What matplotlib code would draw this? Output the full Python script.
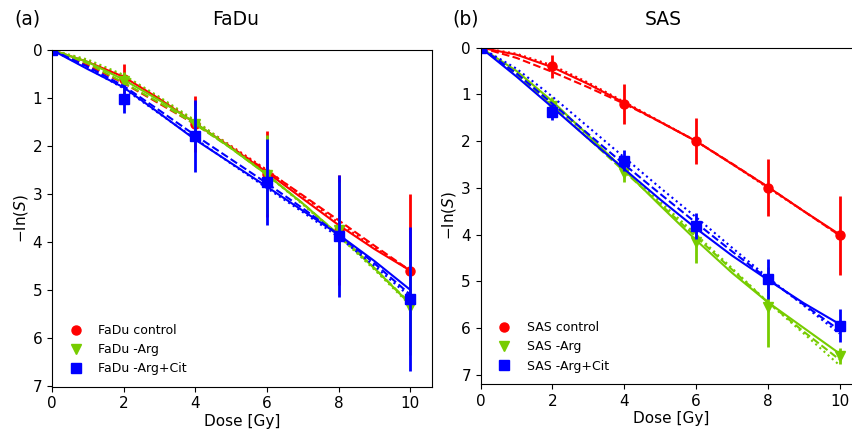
import numpy as np
import matplotlib
matplotlib.use("Agg")
import matplotlib.pyplot as plt

# measured points (-ln S) at each dose
dose = [0, 2, 4, 6, 8, 10]

fadu_ctrl = [0, 0.60, 1.55, 2.58, 3.75, 4.60]
fadu_ctrl_err = [0, 0.30, 0.58, 0.90, 1.15, 1.60]
fadu_arg = [0, 0.65, 1.55, 2.60, 3.75, 5.35]
fadu_arg_err = [0, 0.20, 0.40, 0.83, 1.00, 1.00]
fadu_cit = [0, 1.02, 1.80, 2.75, 3.88, 5.20]
fadu_cit_err = [0, 0.30, 0.75, 0.90, 1.27, 1.50]

sas_ctrl = [0, 0.40, 1.20, 2.00, 3.00, 4.02]
sas_ctrl_err = [0, 0.24, 0.43, 0.50, 0.61, 0.85]
sas_arg = [0, 1.25, 2.68, 4.15, 5.55, 6.60]
sas_arg_err = [0, 0.20, 0.20, 0.47, 0.85, 0.17]
sas_cit = [0, 1.38, 2.42, 3.82, 4.95, 5.95]
sas_cit_err = [0, 0.17, 0.22, 0.28, 0.43, 0.36]

# fitted curves (solid / dashed / dotted)
fit_dose = [0, 1, 2, 3, 4, 5, 6, 7, 8, 9, 10]

fadu_ctrl_solid = [0, 0.25, 0.56, 1.02, 1.53, 2.03, 2.55, 3.10, 3.65, 4.15, 4.60]
fadu_ctrl_dash = [0, 0.32, 0.69, 1.12, 1.55, 2.03, 2.52, 3.03, 3.55, 4.08, 4.60]
fadu_ctrl_dot = [0, 0.23, 0.55, 1.00, 1.50, 2.00, 2.50, 3.05, 3.60, 4.12, 4.60]
fadu_arg_solid = [0, 0.25, 0.62, 1.05, 1.52, 2.05, 2.60, 3.20, 3.85, 4.55, 5.30]
fadu_arg_dash = [0, 0.28, 0.68, 1.10, 1.55, 2.05, 2.60, 3.20, 3.85, 4.55, 5.28]
fadu_arg_dot = [0, 0.20, 0.52, 0.98, 1.47, 2.02, 2.60, 3.22, 3.88, 4.58, 5.32]
fadu_cit_solid = [0, 0.40, 0.78, 1.32, 1.87, 2.36, 2.85, 3.35, 3.85, 4.40, 5.00]
fadu_cit_dash = [0, 0.35, 0.75, 1.26, 1.78, 2.28, 2.78, 3.30, 3.85, 4.45, 5.10]
fadu_cit_dot = [0, 0.38, 0.80, 1.33, 1.85, 2.37, 2.88, 3.38, 3.90, 4.50, 5.15]

sas_ctrl_solid = [0, 0.15, 0.42, 0.78, 1.18, 1.59, 2.00, 2.49, 2.98, 3.50, 4.00]
sas_ctrl_dash = [0, 0.22, 0.52, 0.85, 1.20, 1.59, 2.00, 2.48, 2.98, 3.50, 4.02]
sas_ctrl_dot = [0, 0.13, 0.38, 0.75, 1.16, 1.58, 2.00, 2.49, 3.00, 3.50, 4.02]
sas_arg_solid = [0, 0.50, 1.15, 1.88, 2.62, 3.38, 4.12, 4.82, 5.45, 6.00, 6.55]
sas_arg_dash = [0, 0.58, 1.25, 1.95, 2.65, 3.35, 4.05, 4.75, 5.45, 6.08, 6.68]
sas_arg_dot = [0, 0.55, 1.20, 1.90, 2.60, 3.30, 4.00, 4.72, 5.45, 6.12, 6.80]
sas_cit_solid = [0, 0.62, 1.28, 1.95, 2.60, 3.25, 3.87, 4.45, 4.97, 5.47, 5.92]
sas_cit_dash = [0, 0.55, 1.20, 1.85, 2.50, 3.13, 3.75, 4.36, 4.95, 5.50, 6.05]
sas_cit_dot = [0, 0.45, 1.05, 1.70, 2.35, 3.00, 3.63, 4.28, 4.92, 5.52, 6.12]

RED = "#ff0000"
GREEN = "#77cc00"
BLUE = "#0000ff"

fig = plt.figure(figsize=(8.52, 4.33), dpi=100)
ax1 = fig.add_axes([0.061, 0.107, 0.4457, 0.7776])
# right panel runs past the figure edge, as in the original
ax2 = fig.add_axes([0.5642, 0.1132, 0.4466, 0.7767])


def panel(ax, name, data, fits, ylim_max):
	markers = ["o", "v", "s"]
	colors = [RED, GREEN, BLUE]
	labels = [name + " control", name + " -Arg", name + " -Arg+Cit"]
	for (y, err), (solid, dash, dot), m, c, lab in zip(data, fits, markers, colors, labels):
		ax.plot(fit_dose, solid, "-", color=c, lw=1.5)
		ax.plot(fit_dose, dash, "--", color=c, lw=1.5)
		ax.plot(fit_dose, dot, ":", color=c, lw=1.5)
		ax.errorbar(dose, y, yerr=err, fmt="none", ecolor=c, elinewidth=2)
		ax.plot(dose, y, m, color=c, ms=6.5, label=lab)
	ax.set_xlim(0, 10.6)
	ax.set_ylim(ylim_max, 0)
	ax.set_xticks([0, 2, 4, 6, 8, 10])
	ax.set_yticks(range(8))
	ax.tick_params(labelsize=11)
	ax.set_xlabel("Dose [Gy]", fontsize=11, labelpad=2)
	ax.set_ylabel(r"$-\ln(S)$", fontsize=11, labelpad=2)
	ax.legend(loc="lower left", frameon=False, fontsize=9)


panel(ax1, "FaDu",
	[(fadu_ctrl, fadu_ctrl_err), (fadu_arg, fadu_arg_err), (fadu_cit, fadu_cit_err)],
	[(fadu_ctrl_solid, fadu_ctrl_dash, fadu_ctrl_dot),
	 (fadu_arg_solid, fadu_arg_dash, fadu_arg_dot),
	 (fadu_cit_solid, fadu_cit_dash, fadu_cit_dot)],
	7.02)
panel(ax2, "SAS",
	[(sas_ctrl, sas_ctrl_err), (sas_arg, sas_arg_err), (sas_cit, sas_cit_err)],
	[(sas_ctrl_solid, sas_ctrl_dash, sas_ctrl_dot),
	 (sas_arg_solid, sas_arg_dash, sas_arg_dot),
	 (sas_cit_solid, sas_cit_dash, sas_cit_dot)],
	7.2)

fig.text(14 / 852, 0.955, "(a)", fontsize=13.5, ha="left", va="center")
fig.text(236 / 852, 0.955, "FaDu", fontsize=13.5, ha="center", va="center")
fig.text(452 / 852, 0.955, "(b)", fontsize=13.5, ha="left", va="center")
fig.text(663 / 852, 0.955, "SAS", fontsize=13.5, ha="center", va="center")

fig.savefig("out.png", dpi=100)
